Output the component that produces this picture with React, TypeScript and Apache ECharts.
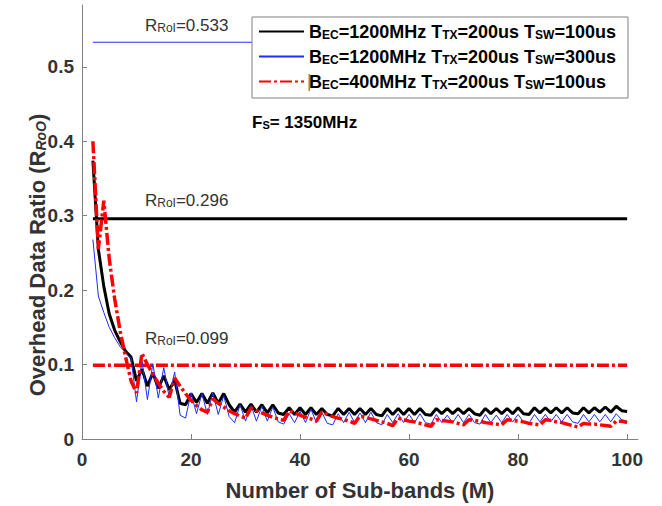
import React, { useEffect, useRef } from "react";
import * as echarts from "echarts";

const FONT = "'Liberation Sans', Arial, sans-serif";

// Number of sub-bands M = 2..100
const M: number[] = Array.from({ length: 99 }, (_, i) => i + 2);

const seriesNames = [
  "BEC=1200MHz TTX=200us TSW=100us",
  "BEC=1200MHz TTX=200us TSW=300us",
  "BEC=400MHz TTX=200us TSW=100us",
];
const legendRich = [
  "B{s|EC}=1200MHz T{s|TX}=200us T{s|SW}=100us",
  "B{s|EC}=1200MHz T{s|TX}=200us T{s|SW}=300us",
  "B{s|EC}=400MHz T{s|TX}=200us T{s|SW}=100us",
];

// B_EC=1200MHz, T_SW=100us (black)
const black: number[] = [
  0.374, 0.255, 0.205, 0.168, 0.146, 0.131, 0.118, 0.110, 0.078, 0.094,
  0.071, 0.089, 0.068, 0.085, 0.066, 0.079, 0.048, 0.046, 0.061, 0.049,
  0.061, 0.048, 0.062, 0.048, 0.061, 0.046, 0.036, 0.047, 0.036, 0.047,
  0.036, 0.046, 0.035, 0.046, 0.035, 0.033, 0.042, 0.033, 0.042, 0.033,
  0.042, 0.033, 0.041, 0.033, 0.031, 0.041, 0.033, 0.041, 0.033, 0.041,
  0.033, 0.041, 0.033, 0.031, 0.041, 0.033, 0.041, 0.033, 0.041, 0.033,
  0.041, 0.033, 0.032, 0.041, 0.034, 0.041, 0.034, 0.041, 0.034, 0.041,
  0.034, 0.032, 0.041, 0.034, 0.041, 0.034, 0.041, 0.034, 0.042, 0.034,
  0.033, 0.042, 0.035, 0.042, 0.035, 0.042, 0.035, 0.042, 0.035, 0.034,
  0.042, 0.035, 0.042, 0.036, 0.043, 0.036, 0.044, 0.038, 0.037,
];

// B_EC=1200MHz, T_SW=300us (blue)
const blue: number[] = [
  0.268, 0.192, 0.170, 0.150, 0.136, 0.124, 0.116, 0.108, 0.050, 0.105,
  0.053, 0.101, 0.055, 0.096, 0.056, 0.090, 0.032, 0.028, 0.062, 0.034,
  0.061, 0.033, 0.062, 0.033, 0.058, 0.030, 0.022, 0.046, 0.024, 0.045,
  0.024, 0.044, 0.024, 0.043, 0.023, 0.020, 0.034, 0.022, 0.037, 0.022,
  0.040, 0.022, 0.036, 0.021, 0.019, 0.034, 0.022, 0.036, 0.022, 0.035,
  0.022, 0.036, 0.022, 0.019, 0.033, 0.022, 0.034, 0.022, 0.033, 0.022,
  0.034, 0.022, 0.020, 0.033, 0.022, 0.032, 0.022, 0.033, 0.022, 0.033,
  0.022, 0.020, 0.033, 0.022, 0.032, 0.022, 0.033, 0.023, 0.033, 0.023,
  0.021, 0.033, 0.023, 0.033, 0.023, 0.033, 0.023, 0.033, 0.023, 0.021,
  0.033, 0.023, 0.033, 0.023, 0.033, 0.023, 0.034, 0.026, 0.024,
];

// B_EC=400MHz, T_SW=100us (red)
const red: number[] = [
  0.400, 0.255, 0.320, 0.242, 0.188, 0.145, 0.110, 0.078, 0.062, 0.115,
  0.100, 0.087, 0.075, 0.064, 0.056, 0.082, 0.071, 0.061, 0.052, 0.045,
  0.039, 0.036, 0.054, 0.048, 0.043, 0.038, 0.034, 0.031, 0.028, 0.042,
  0.038, 0.035, 0.032, 0.029, 0.027, 0.025, 0.038, 0.035, 0.032, 0.029,
  0.027, 0.024, 0.036, 0.033, 0.030, 0.028, 0.026, 0.024, 0.021, 0.031,
  0.029, 0.027, 0.025, 0.023, 0.021, 0.018, 0.028, 0.026, 0.024, 0.023,
  0.021, 0.019, 0.017, 0.026, 0.025, 0.024, 0.023, 0.021, 0.019, 0.026,
  0.025, 0.024, 0.022, 0.021, 0.020, 0.019, 0.026, 0.025, 0.024, 0.023,
  0.021, 0.020, 0.019, 0.026, 0.025, 0.023, 0.022, 0.020, 0.018, 0.016,
  0.021, 0.020, 0.020, 0.019, 0.018, 0.017, 0.024, 0.024, 0.022,
];

// R_RoI reference levels
const refLevels = [0.533, 0.296, 0.099];
const refLabels = ["0.533", "0.296", "0.099"];
const refRange = [2, 100];

const xTicks = [0, 20, 40, 60, 80, 100];
const yTicks = [0, 0.1, 0.2, 0.3, 0.4, 0.5];

const RED_DASH = [12, 3, 3, 3];

export default function App() {
  const ref = useRef<HTMLDivElement>(null);
  useEffect(() => {
    if (!ref.current) return;
    const chart = echarts.init(ref.current, undefined, { renderer: "svg" });
    const pair = (arr: number[]) => M.map((m, i) => [m, arr[i]]);
    const refLine = (v: number) => refRange.map((x) => [x, v]);
    const subRich = {
      s: { fontSize: 12, fontFamily: FONT, fontWeight: "normal", verticalAlign: "bottom", lineHeight: 8, fill: "#333" },
    };
    const option: any = {
      animation: false,
      backgroundColor: "#fff",
      grid: { left: 82, right: 24, top: 5, bottom: 65 },
      xAxis: {
        type: "value",
        min: 0,
        max: 102,
        axisLine: { lineStyle: { color: "#808080", width: 1 } },
        axisTick: { inside: true, length: 5, customValues: xTicks, lineStyle: { color: "#808080" } },
        axisLabel: {
          customValues: xTicks,
          color: "#333",
          fontWeight: "bold",
          fontSize: 19,
          fontFamily: FONT,
          margin: 11,
        },
        splitLine: { show: false },
        name: "Number of Sub-bands (M)",
        nameLocation: "middle",
        nameGap: 40,
        nameTextStyle: { color: "#333", fontWeight: "bold", fontSize: 22, fontFamily: FONT },
      },
      yAxis: {
        type: "value",
        min: 0,
        max: 0.583,
        axisLine: { show: true, lineStyle: { color: "#808080", width: 1 } },
        axisTick: { show: true, inside: true, length: 5, customValues: yTicks, lineStyle: { color: "#808080" } },
        axisLabel: {
          customValues: yTicks,
          color: "#333",
          fontWeight: "bold",
          fontSize: 19,
          fontFamily: FONT,
          margin: 8,
          formatter: (v: number) => (v === 0 ? "0" : v.toFixed(1)),
        },
        splitLine: { show: false },
      },
      legend: {
        data: seriesNames,
        orient: "vertical",
        left: 252,
        top: 17,
        padding: [5, 12, 7, 6],
        itemGap: 6,
        itemWidth: 45,
        itemHeight: 14,
        itemStyle: { opacity: 0 },
        backgroundColor: "#fff",
        borderColor: "#808080",
        borderWidth: 1,
        borderRadius: 0,
        formatter: (name: string) => legendRich[seriesNames.indexOf(name)],
        textStyle: {
          color: "#000",
          fontWeight: "bold",
          fontSize: 18,
          fontFamily: FONT,
          lineHeight: 19,
          rich: {
            s: { fontSize: 12, fontWeight: "bold", fontFamily: FONT, color: "#000", verticalAlign: "bottom", lineHeight: 10 },
          },
        },
      },
      series: [
        {
          name: seriesNames[0],
          type: "line",
          data: pair(black),
          symbol: "none",
          lineStyle: { color: "#000", width: 3 },
          itemStyle: { color: "#000" },
          z: 3,
        },
        {
          name: seriesNames[1],
          type: "line",
          data: pair(blue),
          symbol: "none",
          lineStyle: { color: "#1f2bff", width: 1 },
          itemStyle: { color: "#1f2bff" },
          z: 4,
        },
        {
          name: seriesNames[2],
          type: "line",
          data: pair(red),
          symbol: "none",
          lineStyle: { color: "#ff0000", width: 3.5, type: RED_DASH },
          itemStyle: { color: "#ff0000" },
          z: 5,
        },
        {
          name: "ref0533",
          type: "line",
          data: refLine(refLevels[0]),
          symbol: "none",
          lineStyle: { color: "#1f2bff", width: 1 },
          z: 2,
        },
        {
          name: "ref0296",
          type: "line",
          data: refLine(refLevels[1]),
          symbol: "none",
          lineStyle: { color: "#000", width: 3 },
          z: 2,
        },
        {
          name: "ref0099",
          type: "line",
          data: refLine(refLevels[2]),
          symbol: "none",
          lineStyle: { color: "#ff0000", width: 3.5, type: RED_DASH },
          z: 2,
        },
      ],
      graphic: [
        ...[25, 200, 338].map((y, i) => ({
          type: "text",
          x: 145,
          y,
          style: {
            text: "R{s|RoI}=" + refLabels[i],
            fontSize: 17,
            fontFamily: FONT,
            fill: "#333",
            verticalAlign: "middle",
            align: "left",
            rich: subRich,
          },
          z: 10,
        })),
        {
          type: "text",
          x: 252,
          y: 122,
          style: {
            text: "F{s|S}= 1350MHz",
            fontSize: 17,
            fontWeight: "bold",
            fontFamily: FONT,
            fill: "#000",
            verticalAlign: "middle",
            align: "left",
            rich: { s: { fontSize: 11, fontWeight: "bold", fontFamily: FONT, fill: "#000", verticalAlign: "bottom", lineHeight: 8 } },
          },
          z: 10,
        },
        {
          type: "text",
          x: 37,
          y: 255,
          rotation: Math.PI / 2,
          style: {
            text: "Overhead Data Ratio (R{i|RoO})",
            fontSize: 22,
            fontWeight: "bold",
            fontFamily: FONT,
            fill: "#333",
            align: "center",
            verticalAlign: "middle",
            rich: { i: { fontSize: 14, fontWeight: "bold", fontStyle: "italic", fontFamily: FONT, fill: "#333", verticalAlign: "bottom", lineHeight: 10 } },
          },
          z: 10,
        },
        {
          type: "rect",
          shape: { x: 308.5, y: 74, width: 1.5, height: 17 },
          style: { fill: "#b8860b" },
          z: 100,
        },
      ],
    };
    chart.setOption(option);
    return () => chart.dispose();
  }, []);
  return (
    <div
      ref={ref}
      style={{ position: "fixed", left: 0, top: 0, width: 662, height: 506 }}
    />
  );
}
